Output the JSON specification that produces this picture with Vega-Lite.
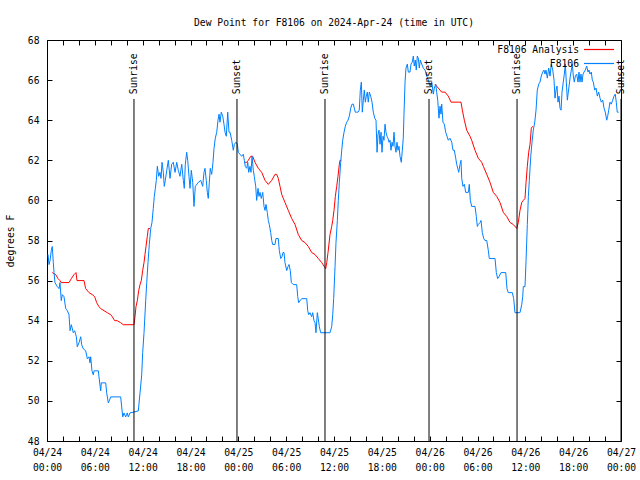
{
"$schema": "https://vega.github.io/schema/vega-lite/v6.json",
"width": 574, "height": 401,
"autosize": "none",
"padding": {"left": 47, "top": 40, "right": 19, "bottom": 39},
"background": "white",
"title": {"text": "Dew Point for F8106 on 2024-Apr-24 (time in UTC)", "font": "DejaVu Sans Mono", "fontSize": 9.7, "fontWeight": "normal", "color": "black", "offset": 7, "anchor": "middle"},
"datasets": {
"events": [
{"h": 10.91, "label": "Sunrise"}, {"h": 23.83, "label": "Sunset"}, {"h": 34.87, "label": "Sunrise"},
{"h": 47.92, "label": "Sunset"}, {"h": 58.96, "label": "Sunrise"}, {"h": 72.0, "label": "Sunset"}
],
"obs": [
{"h":0.66,"v":56.4,"series":"F8106 Analysis","seg":"r1"},
{"h":1.09,"v":56.3,"series":"F8106 Analysis","seg":"r1"},
{"h":1.38,"v":56.1,"series":"F8106 Analysis","seg":"r1"},
{"h":1.63,"v":56.0,"series":"F8106 Analysis","seg":"r1"},
{"h":1.79,"v":55.9,"series":"F8106 Analysis","seg":"r1"},
{"h":2.76,"v":55.9,"series":"F8106 Analysis","seg":"r1"},
{"h":3.05,"v":56.1,"series":"F8106 Analysis","seg":"r1"},
{"h":3.39,"v":56.3,"series":"F8106 Analysis","seg":"r1"},
{"h":3.64,"v":56.4,"series":"F8106 Analysis","seg":"r1"},
{"h":3.76,"v":56.0,"series":"F8106 Analysis","seg":"r1"},
{"h":4.64,"v":56.0,"series":"F8106 Analysis","seg":"r1"},
{"h":4.85,"v":55.6,"series":"F8106 Analysis","seg":"r1"},
{"h":5.27,"v":55.4,"series":"F8106 Analysis","seg":"r1"},
{"h":5.68,"v":55.3,"series":"F8106 Analysis","seg":"r1"},
{"h":5.98,"v":55.2,"series":"F8106 Analysis","seg":"r1"},
{"h":6.23,"v":54.9,"series":"F8106 Analysis","seg":"r1"},
{"h":6.52,"v":54.7,"series":"F8106 Analysis","seg":"r1"},
{"h":6.74,"v":54.6,"series":"F8106 Analysis","seg":"r1"},
{"h":7.15,"v":54.5,"series":"F8106 Analysis","seg":"r1"},
{"h":7.56,"v":54.4,"series":"F8106 Analysis","seg":"r1"},
{"h":7.99,"v":54.3,"series":"F8106 Analysis","seg":"r1"},
{"h":8.19,"v":54.2,"series":"F8106 Analysis","seg":"r1"},
{"h":8.49,"v":54.0,"series":"F8106 Analysis","seg":"r1"},
{"h":8.82,"v":54.0,"series":"F8106 Analysis","seg":"r1"},
{"h":9.24,"v":53.9,"series":"F8106 Analysis","seg":"r1"},
{"h":9.57,"v":53.8,"series":"F8106 Analysis","seg":"r1"},
{"h":10.83,"v":53.8,"series":"F8106 Analysis","seg":"r1"},
{"h":10.91,"v":53.8,"series":"F8106 Analysis","seg":"r1"},
{"h":11.04,"v":54.2,"series":"F8106 Analysis","seg":"r1"},
{"h":11.16,"v":54.7,"series":"F8106 Analysis","seg":"r1"},
{"h":11.33,"v":55.0,"series":"F8106 Analysis","seg":"r1"},
{"h":11.50,"v":55.5,"series":"F8106 Analysis","seg":"r1"},
{"h":11.67,"v":55.8,"series":"F8106 Analysis","seg":"r1"},
{"h":11.83,"v":56.0,"series":"F8106 Analysis","seg":"r1"},
{"h":12.00,"v":56.5,"series":"F8106 Analysis","seg":"r1"},
{"h":12.17,"v":56.9,"series":"F8106 Analysis","seg":"r1"},
{"h":12.29,"v":57.3,"series":"F8106 Analysis","seg":"r1"},
{"h":12.42,"v":57.7,"series":"F8106 Analysis","seg":"r1"},
{"h":12.58,"v":58.2,"series":"F8106 Analysis","seg":"r1"},
{"h":12.71,"v":58.6,"series":"F8106 Analysis","seg":"r1"},
{"h":12.92,"v":58.6,"series":"F8106 Analysis","seg":"r1"},
{"h":24.75,"v":61.9,"series":"F8106 Analysis","seg":"r2"},
{"h":25.05,"v":61.9,"series":"F8106 Analysis","seg":"r2"},
{"h":25.25,"v":62.0,"series":"F8106 Analysis","seg":"r2"},
{"h":25.55,"v":62.2,"series":"F8106 Analysis","seg":"r2"},
{"h":25.80,"v":62.2,"series":"F8106 Analysis","seg":"r2"},
{"h":26.09,"v":61.9,"series":"F8106 Analysis","seg":"r2"},
{"h":26.50,"v":61.6,"series":"F8106 Analysis","seg":"r2"},
{"h":26.93,"v":61.4,"series":"F8106 Analysis","seg":"r2"},
{"h":27.35,"v":61.0,"series":"F8106 Analysis","seg":"r2"},
{"h":27.76,"v":60.8,"series":"F8106 Analysis","seg":"r2"},
{"h":28.19,"v":61.0,"series":"F8106 Analysis","seg":"r2"},
{"h":28.60,"v":61.3,"series":"F8106 Analysis","seg":"r2"},
{"h":28.81,"v":61.3,"series":"F8106 Analysis","seg":"r2"},
{"h":29.01,"v":61.1,"series":"F8106 Analysis","seg":"r2"},
{"h":29.23,"v":60.7,"series":"F8106 Analysis","seg":"r2"},
{"h":29.44,"v":60.3,"series":"F8106 Analysis","seg":"r2"},
{"h":29.85,"v":59.9,"series":"F8106 Analysis","seg":"r2"},
{"h":30.27,"v":59.5,"series":"F8106 Analysis","seg":"r2"},
{"h":30.69,"v":59.1,"series":"F8106 Analysis","seg":"r2"},
{"h":31.11,"v":58.8,"series":"F8106 Analysis","seg":"r2"},
{"h":31.52,"v":58.3,"series":"F8106 Analysis","seg":"r2"},
{"h":31.95,"v":58.0,"series":"F8106 Analysis","seg":"r2"},
{"h":32.36,"v":57.9,"series":"F8106 Analysis","seg":"r2"},
{"h":32.78,"v":57.7,"series":"F8106 Analysis","seg":"r2"},
{"h":33.20,"v":57.4,"series":"F8106 Analysis","seg":"r2"},
{"h":33.62,"v":57.3,"series":"F8106 Analysis","seg":"r2"},
{"h":34.03,"v":57.1,"series":"F8106 Analysis","seg":"r2"},
{"h":34.46,"v":56.9,"series":"F8106 Analysis","seg":"r2"},
{"h":34.78,"v":56.7,"series":"F8106 Analysis","seg":"r2"},
{"h":34.96,"v":56.6,"series":"F8106 Analysis","seg":"r2"},
{"h":35.09,"v":56.9,"series":"F8106 Analysis","seg":"r2"},
{"h":35.25,"v":57.4,"series":"F8106 Analysis","seg":"r2"},
{"h":35.50,"v":58.3,"series":"F8106 Analysis","seg":"r2"},
{"h":35.71,"v":58.7,"series":"F8106 Analysis","seg":"r2"},
{"h":35.84,"v":59.0,"series":"F8106 Analysis","seg":"r2"},
{"h":36.00,"v":59.5,"series":"F8106 Analysis","seg":"r2"},
{"h":36.17,"v":60.2,"series":"F8106 Analysis","seg":"r2"},
{"h":36.34,"v":60.7,"series":"F8106 Analysis","seg":"r2"},
{"h":36.50,"v":61.2,"series":"F8106 Analysis","seg":"r2"},
{"h":36.67,"v":61.8,"series":"F8106 Analysis","seg":"r2"},
{"h":36.75,"v":62.0,"series":"F8106 Analysis","seg":"r2"},
{"h":36.92,"v":62.0,"series":"F8106 Analysis","seg":"r2"},
{"h":48.67,"v":65.8,"series":"F8106 Analysis","seg":"r3"},
{"h":49.08,"v":65.6,"series":"F8106 Analysis","seg":"r3"},
{"h":49.51,"v":65.4,"series":"F8106 Analysis","seg":"r3"},
{"h":49.92,"v":65.4,"series":"F8106 Analysis","seg":"r3"},
{"h":50.34,"v":65.2,"series":"F8106 Analysis","seg":"r3"},
{"h":50.68,"v":64.9,"series":"F8106 Analysis","seg":"r3"},
{"h":51.18,"v":64.9,"series":"F8106 Analysis","seg":"r3"},
{"h":51.93,"v":64.9,"series":"F8106 Analysis","seg":"r3"},
{"h":52.10,"v":64.5,"series":"F8106 Analysis","seg":"r3"},
{"h":52.35,"v":64.0,"series":"F8106 Analysis","seg":"r3"},
{"h":52.65,"v":63.5,"series":"F8106 Analysis","seg":"r3"},
{"h":53.06,"v":63.2,"series":"F8106 Analysis","seg":"r3"},
{"h":53.27,"v":63.0,"series":"F8106 Analysis","seg":"r3"},
{"h":53.69,"v":62.5,"series":"F8106 Analysis","seg":"r3"},
{"h":54.10,"v":62.1,"series":"F8106 Analysis","seg":"r3"},
{"h":54.53,"v":61.9,"series":"F8106 Analysis","seg":"r3"},
{"h":54.73,"v":61.7,"series":"F8106 Analysis","seg":"r3"},
{"h":55.16,"v":61.3,"series":"F8106 Analysis","seg":"r3"},
{"h":55.57,"v":60.9,"series":"F8106 Analysis","seg":"r3"},
{"h":55.98,"v":60.4,"series":"F8106 Analysis","seg":"r3"},
{"h":56.41,"v":60.2,"series":"F8106 Analysis","seg":"r3"},
{"h":56.82,"v":59.9,"series":"F8106 Analysis","seg":"r3"},
{"h":57.24,"v":59.4,"series":"F8106 Analysis","seg":"r3"},
{"h":57.66,"v":59.2,"series":"F8106 Analysis","seg":"r3"},
{"h":58.08,"v":58.9,"series":"F8106 Analysis","seg":"r3"},
{"h":58.49,"v":58.8,"series":"F8106 Analysis","seg":"r3"},
{"h":58.92,"v":58.6,"series":"F8106 Analysis","seg":"r3"},
{"h":59.12,"v":58.9,"series":"F8106 Analysis","seg":"r3"},
{"h":59.33,"v":59.5,"series":"F8106 Analysis","seg":"r3"},
{"h":59.55,"v":59.9,"series":"F8106 Analysis","seg":"r3"},
{"h":59.75,"v":60.0,"series":"F8106 Analysis","seg":"r3"},
{"h":59.96,"v":60.1,"series":"F8106 Analysis","seg":"r3"},
{"h":60.09,"v":60.9,"series":"F8106 Analysis","seg":"r3"},
{"h":60.25,"v":61.7,"series":"F8106 Analysis","seg":"r3"},
{"h":60.42,"v":62.4,"series":"F8106 Analysis","seg":"r3"},
{"h":60.59,"v":62.8,"series":"F8106 Analysis","seg":"r3"},
{"h":60.75,"v":63.6,"series":"F8106 Analysis","seg":"r3"},
{"h":60.92,"v":63.7,"series":"F8106 Analysis","seg":"r3"},
{"h":0.13,"v":57.3,"series":"F8106","seg":"b"},
{"h":0.25,"v":56.8,"series":"F8106","seg":"b"},
{"h":0.38,"v":57.0,"series":"F8106","seg":"b"},
{"h":0.54,"v":57.5,"series":"F8106","seg":"b"},
{"h":0.66,"v":57.7,"series":"F8106","seg":"b"},
{"h":0.79,"v":56.9,"series":"F8106","seg":"b"},
{"h":0.88,"v":56.4,"series":"F8106","seg":"b"},
{"h":1.00,"v":55.9,"series":"F8106","seg":"b"},
{"h":1.29,"v":55.7,"series":"F8106","seg":"b"},
{"h":1.51,"v":55.6,"series":"F8106","seg":"b"},
{"h":1.63,"v":55.9,"series":"F8106","seg":"b"},
{"h":1.79,"v":55.0,"series":"F8106","seg":"b"},
{"h":1.92,"v":55.3,"series":"F8106","seg":"b"},
{"h":2.13,"v":55.2,"series":"F8106","seg":"b"},
{"h":2.35,"v":54.6,"series":"F8106","seg":"b"},
{"h":2.55,"v":54.5,"series":"F8106","seg":"b"},
{"h":2.76,"v":54.3,"series":"F8106","seg":"b"},
{"h":2.89,"v":53.5,"series":"F8106","seg":"b"},
{"h":3.05,"v":53.8,"series":"F8106","seg":"b"},
{"h":3.30,"v":53.4,"series":"F8106","seg":"b"},
{"h":3.47,"v":53.5,"series":"F8106","seg":"b"},
{"h":3.68,"v":53.2,"series":"F8106","seg":"b"},
{"h":3.80,"v":52.7,"series":"F8106","seg":"b"},
{"h":4.01,"v":52.9,"series":"F8106","seg":"b"},
{"h":4.23,"v":53.2,"series":"F8106","seg":"b"},
{"h":4.35,"v":52.8,"series":"F8106","seg":"b"},
{"h":4.55,"v":52.6,"series":"F8106","seg":"b"},
{"h":4.85,"v":52.5,"series":"F8106","seg":"b"},
{"h":5.06,"v":52.1,"series":"F8106","seg":"b"},
{"h":5.27,"v":52.2,"series":"F8106","seg":"b"},
{"h":5.39,"v":51.9,"series":"F8106","seg":"b"},
{"h":5.48,"v":52.2,"series":"F8106","seg":"b"},
{"h":5.64,"v":51.5,"series":"F8106","seg":"b"},
{"h":5.81,"v":51.3,"series":"F8106","seg":"b"},
{"h":5.90,"v":51.5,"series":"F8106","seg":"b"},
{"h":6.44,"v":51.5,"series":"F8106","seg":"b"},
{"h":6.52,"v":51.2,"series":"F8106","seg":"b"},
{"h":6.74,"v":50.5,"series":"F8106","seg":"b"},
{"h":6.81,"v":50.9,"series":"F8106","seg":"b"},
{"h":7.36,"v":50.9,"series":"F8106","seg":"b"},
{"h":7.49,"v":50.4,"series":"F8106","seg":"b"},
{"h":7.69,"v":49.9,"series":"F8106","seg":"b"},
{"h":7.81,"v":50.0,"series":"F8106","seg":"b"},
{"h":7.99,"v":50.2,"series":"F8106","seg":"b"},
{"h":9.24,"v":50.2,"series":"F8106","seg":"b"},
{"h":9.37,"v":49.7,"series":"F8106","seg":"b"},
{"h":9.50,"v":49.2,"series":"F8106","seg":"b"},
{"h":9.66,"v":49.4,"series":"F8106","seg":"b"},
{"h":9.87,"v":49.2,"series":"F8106","seg":"b"},
{"h":10.07,"v":49.4,"series":"F8106","seg":"b"},
{"h":10.20,"v":49.2,"series":"F8106","seg":"b"},
{"h":10.41,"v":49.4,"series":"F8106","seg":"b"},
{"h":11.45,"v":49.5,"series":"F8106","seg":"b"},
{"h":11.67,"v":50.4,"series":"F8106","seg":"b"},
{"h":11.88,"v":51.3,"series":"F8106","seg":"b"},
{"h":12.00,"v":52.4,"series":"F8106","seg":"b"},
{"h":12.17,"v":53.4,"series":"F8106","seg":"b"},
{"h":12.38,"v":55.0,"series":"F8106","seg":"b"},
{"h":12.51,"v":55.9,"series":"F8106","seg":"b"},
{"h":12.67,"v":56.9,"series":"F8106","seg":"b"},
{"h":12.83,"v":57.8,"series":"F8106","seg":"b"},
{"h":13.01,"v":58.6,"series":"F8106","seg":"b"},
{"h":13.17,"v":58.9,"series":"F8106","seg":"b"},
{"h":13.33,"v":59.6,"series":"F8106","seg":"b"},
{"h":13.46,"v":60.2,"series":"F8106","seg":"b"},
{"h":13.59,"v":60.6,"series":"F8106","seg":"b"},
{"h":13.71,"v":61.0,"series":"F8106","seg":"b"},
{"h":13.84,"v":61.7,"series":"F8106","seg":"b"},
{"h":14.01,"v":61.2,"series":"F8106","seg":"b"},
{"h":14.17,"v":61.4,"series":"F8106","seg":"b"},
{"h":14.30,"v":61.1,"series":"F8106","seg":"b"},
{"h":14.43,"v":61.9,"series":"F8106","seg":"b"},
{"h":14.59,"v":61.4,"series":"F8106","seg":"b"},
{"h":14.71,"v":60.7,"series":"F8106","seg":"b"},
{"h":14.84,"v":61.0,"series":"F8106","seg":"b"},
{"h":15.02,"v":61.5,"series":"F8106","seg":"b"},
{"h":15.22,"v":62.0,"series":"F8106","seg":"b"},
{"h":15.43,"v":61.1,"series":"F8106","seg":"b"},
{"h":15.64,"v":61.8,"series":"F8106","seg":"b"},
{"h":15.84,"v":61.9,"series":"F8106","seg":"b"},
{"h":16.06,"v":61.4,"series":"F8106","seg":"b"},
{"h":16.27,"v":61.9,"series":"F8106","seg":"b"},
{"h":16.47,"v":61.5,"series":"F8106","seg":"b"},
{"h":16.68,"v":61.2,"series":"F8106","seg":"b"},
{"h":16.90,"v":61.8,"series":"F8106","seg":"b"},
{"h":17.10,"v":61.0,"series":"F8106","seg":"b"},
{"h":17.22,"v":60.6,"series":"F8106","seg":"b"},
{"h":17.35,"v":61.8,"series":"F8106","seg":"b"},
{"h":17.52,"v":62.4,"series":"F8106","seg":"b"},
{"h":17.65,"v":62.0,"series":"F8106","seg":"b"},
{"h":17.81,"v":61.2,"series":"F8106","seg":"b"},
{"h":17.94,"v":60.6,"series":"F8106","seg":"b"},
{"h":18.10,"v":61.5,"series":"F8106","seg":"b"},
{"h":18.28,"v":60.9,"series":"F8106","seg":"b"},
{"h":18.44,"v":59.7,"series":"F8106","seg":"b"},
{"h":18.60,"v":60.7,"series":"F8106","seg":"b"},
{"h":18.98,"v":60.9,"series":"F8106","seg":"b"},
{"h":19.28,"v":61.0,"series":"F8106","seg":"b"},
{"h":19.53,"v":60.7,"series":"F8106","seg":"b"},
{"h":19.69,"v":61.4,"series":"F8106","seg":"b"},
{"h":19.82,"v":61.6,"series":"F8106","seg":"b"},
{"h":19.98,"v":61.0,"series":"F8106","seg":"b"},
{"h":20.11,"v":60.4,"series":"F8106","seg":"b"},
{"h":20.23,"v":60.1,"series":"F8106","seg":"b"},
{"h":20.36,"v":60.9,"series":"F8106","seg":"b"},
{"h":20.48,"v":61.6,"series":"F8106","seg":"b"},
{"h":20.66,"v":61.3,"series":"F8106","seg":"b"},
{"h":20.82,"v":61.9,"series":"F8106","seg":"b"},
{"h":20.95,"v":62.6,"series":"F8106","seg":"b"},
{"h":21.11,"v":63.1,"series":"F8106","seg":"b"},
{"h":21.29,"v":63.4,"series":"F8106","seg":"b"},
{"h":21.45,"v":64.0,"series":"F8106","seg":"b"},
{"h":21.58,"v":64.3,"series":"F8106","seg":"b"},
{"h":21.70,"v":63.9,"series":"F8106","seg":"b"},
{"h":21.86,"v":64.4,"series":"F8106","seg":"b"},
{"h":22.04,"v":64.2,"series":"F8106","seg":"b"},
{"h":22.20,"v":63.8,"series":"F8106","seg":"b"},
{"h":22.33,"v":63.4,"series":"F8106","seg":"b"},
{"h":22.49,"v":63.2,"series":"F8106","seg":"b"},
{"h":22.67,"v":64.4,"series":"F8106","seg":"b"},
{"h":22.83,"v":63.4,"series":"F8106","seg":"b"},
{"h":22.96,"v":63.4,"series":"F8106","seg":"b"},
{"h":23.17,"v":63.0,"series":"F8106","seg":"b"},
{"h":23.37,"v":62.5,"series":"F8106","seg":"b"},
{"h":23.50,"v":62.8,"series":"F8106","seg":"b"},
{"h":23.71,"v":62.9,"series":"F8106","seg":"b"},
{"h":23.87,"v":62.8,"series":"F8106","seg":"b"},
{"h":24.00,"v":62.4,"series":"F8106","seg":"b"},
{"h":24.21,"v":62.3,"series":"F8106","seg":"b"},
{"h":24.42,"v":62.2,"series":"F8106","seg":"b"},
{"h":24.62,"v":62.3,"series":"F8106","seg":"b"},
{"h":24.75,"v":62.0,"series":"F8106","seg":"b"},
{"h":24.87,"v":61.7,"series":"F8106","seg":"b"},
{"h":25.05,"v":61.6,"series":"F8106","seg":"b"},
{"h":25.18,"v":61.9,"series":"F8106","seg":"b"},
{"h":25.30,"v":61.4,"series":"F8106","seg":"b"},
{"h":25.46,"v":61.7,"series":"F8106","seg":"b"},
{"h":25.59,"v":61.4,"series":"F8106","seg":"b"},
{"h":25.72,"v":62.2,"series":"F8106","seg":"b"},
{"h":25.88,"v":61.5,"series":"F8106","seg":"b"},
{"h":26.00,"v":61.2,"series":"F8106","seg":"b"},
{"h":26.18,"v":60.7,"series":"F8106","seg":"b"},
{"h":26.30,"v":60.0,"series":"F8106","seg":"b"},
{"h":26.47,"v":60.6,"series":"F8106","seg":"b"},
{"h":26.59,"v":60.2,"series":"F8106","seg":"b"},
{"h":26.72,"v":60.4,"series":"F8106","seg":"b"},
{"h":26.88,"v":60.1,"series":"F8106","seg":"b"},
{"h":27.06,"v":60.4,"series":"F8106","seg":"b"},
{"h":27.22,"v":59.7,"series":"F8106","seg":"b"},
{"h":27.35,"v":59.5,"series":"F8106","seg":"b"},
{"h":27.47,"v":59.8,"series":"F8106","seg":"b"},
{"h":27.63,"v":59.4,"series":"F8106","seg":"b"},
{"h":27.76,"v":59.0,"series":"F8106","seg":"b"},
{"h":27.88,"v":58.8,"series":"F8106","seg":"b"},
{"h":28.06,"v":58.4,"series":"F8106","seg":"b"},
{"h":28.19,"v":58.0,"series":"F8106","seg":"b"},
{"h":28.31,"v":57.8,"series":"F8106","seg":"b"},
{"h":28.60,"v":57.8,"series":"F8106","seg":"b"},
{"h":28.72,"v":58.1,"series":"F8106","seg":"b"},
{"h":29.01,"v":58.1,"series":"F8106","seg":"b"},
{"h":29.14,"v":57.5,"series":"F8106","seg":"b"},
{"h":29.32,"v":57.1,"series":"F8106","seg":"b"},
{"h":29.48,"v":57.2,"series":"F8106","seg":"b"},
{"h":29.60,"v":57.4,"series":"F8106","seg":"b"},
{"h":29.73,"v":57.4,"series":"F8106","seg":"b"},
{"h":29.85,"v":56.9,"series":"F8106","seg":"b"},
{"h":30.07,"v":56.5,"series":"F8106","seg":"b"},
{"h":30.23,"v":56.7,"series":"F8106","seg":"b"},
{"h":30.36,"v":56.8,"series":"F8106","seg":"b"},
{"h":30.52,"v":56.5,"series":"F8106","seg":"b"},
{"h":30.65,"v":55.9,"series":"F8106","seg":"b"},
{"h":30.90,"v":55.8,"series":"F8106","seg":"b"},
{"h":31.32,"v":55.8,"series":"F8106","seg":"b"},
{"h":31.45,"v":55.2,"series":"F8106","seg":"b"},
{"h":31.57,"v":54.9,"series":"F8106","seg":"b"},
{"h":31.74,"v":55.0,"series":"F8106","seg":"b"},
{"h":31.95,"v":55.1,"series":"F8106","seg":"b"},
{"h":32.58,"v":55.1,"series":"F8106","seg":"b"},
{"h":32.70,"v":54.5,"series":"F8106","seg":"b"},
{"h":32.83,"v":54.3,"series":"F8106","seg":"b"},
{"h":32.99,"v":54.4,"series":"F8106","seg":"b"},
{"h":33.20,"v":54.2,"series":"F8106","seg":"b"},
{"h":33.33,"v":54.4,"series":"F8106","seg":"b"},
{"h":33.49,"v":54.0,"series":"F8106","seg":"b"},
{"h":33.62,"v":53.9,"series":"F8106","seg":"b"},
{"h":33.74,"v":53.4,"series":"F8106","seg":"b"},
{"h":33.91,"v":54.4,"series":"F8106","seg":"b"},
{"h":34.03,"v":54.1,"series":"F8106","seg":"b"},
{"h":34.16,"v":53.7,"series":"F8106","seg":"b"},
{"h":34.33,"v":53.4,"series":"F8106","seg":"b"},
{"h":35.50,"v":53.4,"series":"F8106","seg":"b"},
{"h":35.71,"v":53.7,"series":"F8106","seg":"b"},
{"h":35.84,"v":54.3,"series":"F8106","seg":"b"},
{"h":35.96,"v":55.1,"series":"F8106","seg":"b"},
{"h":36.13,"v":56.7,"series":"F8106","seg":"b"},
{"h":36.25,"v":57.9,"series":"F8106","seg":"b"},
{"h":36.42,"v":59.0,"series":"F8106","seg":"b"},
{"h":36.54,"v":60.0,"series":"F8106","seg":"b"},
{"h":36.67,"v":60.9,"series":"F8106","seg":"b"},
{"h":36.84,"v":61.9,"series":"F8106","seg":"b"},
{"h":36.97,"v":62.5,"series":"F8106","seg":"b"},
{"h":37.09,"v":63.0,"series":"F8106","seg":"b"},
{"h":37.26,"v":63.4,"series":"F8106","seg":"b"},
{"h":37.42,"v":63.7,"series":"F8106","seg":"b"},
{"h":37.59,"v":63.9,"series":"F8106","seg":"b"},
{"h":37.76,"v":64.0,"series":"F8106","seg":"b"},
{"h":37.92,"v":64.2,"series":"F8106","seg":"b"},
{"h":38.10,"v":64.6,"series":"F8106","seg":"b"},
{"h":38.26,"v":64.8,"series":"F8106","seg":"b"},
{"h":38.42,"v":64.8,"series":"F8106","seg":"b"},
{"h":38.55,"v":64.6,"series":"F8106","seg":"b"},
{"h":38.67,"v":64.4,"series":"F8106","seg":"b"},
{"h":38.85,"v":64.4,"series":"F8106","seg":"b"},
{"h":39.01,"v":64.4,"series":"F8106","seg":"b"},
{"h":39.17,"v":64.5,"series":"F8106","seg":"b"},
{"h":39.30,"v":65.5,"series":"F8106","seg":"b"},
{"h":39.43,"v":65.9,"series":"F8106","seg":"b"},
{"h":39.55,"v":64.4,"series":"F8106","seg":"b"},
{"h":39.68,"v":65.0,"series":"F8106","seg":"b"},
{"h":39.80,"v":65.5,"series":"F8106","seg":"b"},
{"h":39.93,"v":64.9,"series":"F8106","seg":"b"},
{"h":40.05,"v":65.2,"series":"F8106","seg":"b"},
{"h":40.18,"v":65.4,"series":"F8106","seg":"b"},
{"h":40.30,"v":64.9,"series":"F8106","seg":"b"},
{"h":40.43,"v":65.4,"series":"F8106","seg":"b"},
{"h":40.60,"v":65.2,"series":"F8106","seg":"b"},
{"h":40.77,"v":64.9,"series":"F8106","seg":"b"},
{"h":40.93,"v":64.4,"series":"F8106","seg":"b"},
{"h":41.11,"v":64.1,"series":"F8106","seg":"b"},
{"h":41.27,"v":64.0,"series":"F8106","seg":"b"},
{"h":41.40,"v":62.4,"series":"F8106","seg":"b"},
{"h":41.52,"v":63.3,"series":"F8106","seg":"b"},
{"h":41.65,"v":63.5,"series":"F8106","seg":"b"},
{"h":41.77,"v":62.8,"series":"F8106","seg":"b"},
{"h":41.90,"v":63.4,"series":"F8106","seg":"b"},
{"h":42.02,"v":62.4,"series":"F8106","seg":"b"},
{"h":42.15,"v":63.2,"series":"F8106","seg":"b"},
{"h":42.27,"v":63.0,"series":"F8106","seg":"b"},
{"h":42.40,"v":63.8,"series":"F8106","seg":"b"},
{"h":42.52,"v":63.4,"series":"F8106","seg":"b"},
{"h":42.65,"v":63.2,"series":"F8106","seg":"b"},
{"h":42.77,"v":63.1,"series":"F8106","seg":"b"},
{"h":42.90,"v":62.9,"series":"F8106","seg":"b"},
{"h":43.03,"v":63.0,"series":"F8106","seg":"b"},
{"h":43.15,"v":62.5,"series":"F8106","seg":"b"},
{"h":43.28,"v":62.9,"series":"F8106","seg":"b"},
{"h":43.40,"v":62.7,"series":"F8106","seg":"b"},
{"h":43.53,"v":63.4,"series":"F8106","seg":"b"},
{"h":43.65,"v":62.7,"series":"F8106","seg":"b"},
{"h":43.78,"v":62.4,"series":"F8106","seg":"b"},
{"h":43.90,"v":62.9,"series":"F8106","seg":"b"},
{"h":44.03,"v":62.5,"series":"F8106","seg":"b"},
{"h":44.15,"v":62.7,"series":"F8106","seg":"b"},
{"h":44.28,"v":62.2,"series":"F8106","seg":"b"},
{"h":44.44,"v":61.9,"series":"F8106","seg":"b"},
{"h":44.57,"v":62.5,"series":"F8106","seg":"b"},
{"h":44.69,"v":63.1,"series":"F8106","seg":"b"},
{"h":44.78,"v":64.3,"series":"F8106","seg":"b"},
{"h":44.91,"v":65.9,"series":"F8106","seg":"b"},
{"h":45.03,"v":66.6,"series":"F8106","seg":"b"},
{"h":45.20,"v":66.8,"series":"F8106","seg":"b"},
{"h":45.32,"v":66.4,"series":"F8106","seg":"b"},
{"h":45.53,"v":66.4,"series":"F8106","seg":"b"},
{"h":45.66,"v":66.8,"series":"F8106","seg":"b"},
{"h":45.82,"v":66.9,"series":"F8106","seg":"b"},
{"h":45.95,"v":67.2,"series":"F8106","seg":"b"},
{"h":46.07,"v":66.7,"series":"F8106","seg":"b"},
{"h":46.20,"v":67.0,"series":"F8106","seg":"b"},
{"h":46.32,"v":66.5,"series":"F8106","seg":"b"},
{"h":46.45,"v":67.2,"series":"F8106","seg":"b"},
{"h":46.57,"v":67.1,"series":"F8106","seg":"b"},
{"h":46.70,"v":66.6,"series":"F8106","seg":"b"},
{"h":46.83,"v":67.0,"series":"F8106","seg":"b"},
{"h":47.00,"v":66.8,"series":"F8106","seg":"b"},
{"h":47.20,"v":66.6,"series":"F8106","seg":"b"},
{"h":47.42,"v":66.5,"series":"F8106","seg":"b"},
{"h":47.63,"v":66.2,"series":"F8106","seg":"b"},
{"h":47.83,"v":66.0,"series":"F8106","seg":"b"},
{"h":48.04,"v":65.7,"series":"F8106","seg":"b"},
{"h":48.26,"v":65.9,"series":"F8106","seg":"b"},
{"h":48.46,"v":65.3,"series":"F8106","seg":"b"},
{"h":48.58,"v":65.6,"series":"F8106","seg":"b"},
{"h":48.76,"v":65.8,"series":"F8106","seg":"b"},
{"h":48.88,"v":65.4,"series":"F8106","seg":"b"},
{"h":49.01,"v":65.0,"series":"F8106","seg":"b"},
{"h":49.17,"v":64.1,"series":"F8106","seg":"b"},
{"h":49.30,"v":64.7,"series":"F8106","seg":"b"},
{"h":49.42,"v":64.3,"series":"F8106","seg":"b"},
{"h":49.51,"v":64.8,"series":"F8106","seg":"b"},
{"h":49.67,"v":63.9,"series":"F8106","seg":"b"},
{"h":49.84,"v":63.8,"series":"F8106","seg":"b"},
{"h":50.01,"v":63.4,"series":"F8106","seg":"b"},
{"h":50.18,"v":63.2,"series":"F8106","seg":"b"},
{"h":50.34,"v":63.0,"series":"F8106","seg":"b"},
{"h":50.55,"v":63.1,"series":"F8106","seg":"b"},
{"h":50.77,"v":62.9,"series":"F8106","seg":"b"},
{"h":50.93,"v":62.5,"series":"F8106","seg":"b"},
{"h":51.09,"v":62.5,"series":"F8106","seg":"b"},
{"h":51.27,"v":62.1,"series":"F8106","seg":"b"},
{"h":51.39,"v":61.8,"series":"F8106","seg":"b"},
{"h":51.52,"v":61.6,"series":"F8106","seg":"b"},
{"h":51.64,"v":61.4,"series":"F8106","seg":"b"},
{"h":51.81,"v":61.8,"series":"F8106","seg":"b"},
{"h":51.93,"v":62.0,"series":"F8106","seg":"b"},
{"h":52.02,"v":61.1,"series":"F8106","seg":"b"},
{"h":52.18,"v":60.7,"series":"F8106","seg":"b"},
{"h":52.35,"v":60.8,"series":"F8106","seg":"b"},
{"h":52.52,"v":60.4,"series":"F8106","seg":"b"},
{"h":52.85,"v":60.4,"series":"F8106","seg":"b"},
{"h":52.97,"v":60.8,"series":"F8106","seg":"b"},
{"h":53.10,"v":60.0,"series":"F8106","seg":"b"},
{"h":53.27,"v":59.7,"series":"F8106","seg":"b"},
{"h":53.69,"v":59.7,"series":"F8106","seg":"b"},
{"h":53.85,"v":59.2,"series":"F8106","seg":"b"},
{"h":53.98,"v":58.7,"series":"F8106","seg":"b"},
{"h":54.10,"v":58.8,"series":"F8106","seg":"b"},
{"h":54.32,"v":58.9,"series":"F8106","seg":"b"},
{"h":54.44,"v":59.0,"series":"F8106","seg":"b"},
{"h":54.60,"v":58.4,"series":"F8106","seg":"b"},
{"h":54.78,"v":58.1,"series":"F8106","seg":"b"},
{"h":54.94,"v":58.0,"series":"F8106","seg":"b"},
{"h":55.16,"v":58.0,"series":"F8106","seg":"b"},
{"h":55.36,"v":57.5,"series":"F8106","seg":"b"},
{"h":55.48,"v":57.1,"series":"F8106","seg":"b"},
{"h":56.20,"v":57.1,"series":"F8106","seg":"b"},
{"h":56.36,"v":56.4,"series":"F8106","seg":"b"},
{"h":56.53,"v":56.1,"series":"F8106","seg":"b"},
{"h":56.70,"v":56.2,"series":"F8106","seg":"b"},
{"h":56.95,"v":56.4,"series":"F8106","seg":"b"},
{"h":57.54,"v":56.4,"series":"F8106","seg":"b"},
{"h":57.70,"v":55.6,"series":"F8106","seg":"b"},
{"h":57.86,"v":55.4,"series":"F8106","seg":"b"},
{"h":58.37,"v":55.4,"series":"F8106","seg":"b"},
{"h":58.54,"v":55.1,"series":"F8106","seg":"b"},
{"h":58.70,"v":54.4,"series":"F8106","seg":"b"},
{"h":59.33,"v":54.4,"series":"F8106","seg":"b"},
{"h":59.55,"v":54.8,"series":"F8106","seg":"b"},
{"h":59.67,"v":55.2,"series":"F8106","seg":"b"},
{"h":59.75,"v":55.7,"series":"F8106","seg":"b"},
{"h":59.96,"v":55.7,"series":"F8106","seg":"b"},
{"h":60.09,"v":57.0,"series":"F8106","seg":"b"},
{"h":60.25,"v":58.8,"series":"F8106","seg":"b"},
{"h":60.38,"v":60.2,"series":"F8106","seg":"b"},
{"h":60.50,"v":61.0,"series":"F8106","seg":"b"},
{"h":60.68,"v":62.2,"series":"F8106","seg":"b"},
{"h":60.84,"v":62.9,"series":"F8106","seg":"b"},
{"h":61.00,"v":63.5,"series":"F8106","seg":"b"},
{"h":61.18,"v":63.9,"series":"F8106","seg":"b"},
{"h":61.34,"v":64.5,"series":"F8106","seg":"b"},
{"h":61.50,"v":65.5,"series":"F8106","seg":"b"},
{"h":61.68,"v":65.8,"series":"F8106","seg":"b"},
{"h":61.84,"v":65.9,"series":"F8106","seg":"b"},
{"h":62.00,"v":66.2,"series":"F8106","seg":"b"},
{"h":62.18,"v":66.4,"series":"F8106","seg":"b"},
{"h":62.34,"v":66.5,"series":"F8106","seg":"b"},
{"h":62.47,"v":66.3,"series":"F8106","seg":"b"},
{"h":62.59,"v":66.5,"series":"F8106","seg":"b"},
{"h":62.76,"v":66.1,"series":"F8106","seg":"b"},
{"h":62.93,"v":66.6,"series":"F8106","seg":"b"},
{"h":63.10,"v":66.2,"series":"F8106","seg":"b"},
{"h":63.26,"v":66.8,"series":"F8106","seg":"b"},
{"h":63.44,"v":66.5,"series":"F8106","seg":"b"},
{"h":63.60,"v":66.0,"series":"F8106","seg":"b"},
{"h":63.72,"v":65.1,"series":"F8106","seg":"b"},
{"h":63.85,"v":65.5,"series":"F8106","seg":"b"},
{"h":63.97,"v":65.7,"series":"F8106","seg":"b"},
{"h":64.10,"v":64.9,"series":"F8106","seg":"b"},
{"h":64.22,"v":65.2,"series":"F8106","seg":"b"},
{"h":64.35,"v":64.6,"series":"F8106","seg":"b"},
{"h":64.48,"v":64.5,"series":"F8106","seg":"b"},
{"h":64.60,"v":65.4,"series":"F8106","seg":"b"},
{"h":64.76,"v":65.9,"series":"F8106","seg":"b"},
{"h":64.89,"v":66.3,"series":"F8106","seg":"b"},
{"h":65.02,"v":66.8,"series":"F8106","seg":"b"},
{"h":65.14,"v":65.9,"series":"F8106","seg":"b"},
{"h":65.27,"v":65.0,"series":"F8106","seg":"b"},
{"h":65.39,"v":65.4,"series":"F8106","seg":"b"},
{"h":65.52,"v":65.8,"series":"F8106","seg":"b"},
{"h":65.64,"v":66.2,"series":"F8106","seg":"b"},
{"h":65.77,"v":66.5,"series":"F8106","seg":"b"},
{"h":65.89,"v":66.8,"series":"F8106","seg":"b"},
{"h":66.02,"v":66.2,"series":"F8106","seg":"b"},
{"h":66.14,"v":65.9,"series":"F8106","seg":"b"},
{"h":66.27,"v":66.2,"series":"F8106","seg":"b"},
{"h":66.44,"v":66.3,"series":"F8106","seg":"b"},
{"h":66.61,"v":65.9,"series":"F8106","seg":"b"},
{"h":66.73,"v":66.4,"series":"F8106","seg":"b"},
{"h":66.86,"v":65.9,"series":"F8106","seg":"b"},
{"h":66.98,"v":66.3,"series":"F8106","seg":"b"},
{"h":67.11,"v":65.9,"series":"F8106","seg":"b"},
{"h":67.24,"v":66.3,"series":"F8106","seg":"b"},
{"h":67.36,"v":66.4,"series":"F8106","seg":"b"},
{"h":67.52,"v":66.5,"series":"F8106","seg":"b"},
{"h":67.70,"v":66.7,"series":"F8106","seg":"b"},
{"h":67.86,"v":66.4,"series":"F8106","seg":"b"},
{"h":67.99,"v":66.5,"series":"F8106","seg":"b"},
{"h":68.11,"v":66.3,"series":"F8106","seg":"b"},
{"h":68.28,"v":66.4,"series":"F8106","seg":"b"},
{"h":68.40,"v":66.0,"series":"F8106","seg":"b"},
{"h":68.53,"v":65.9,"series":"F8106","seg":"b"},
{"h":68.70,"v":65.5,"series":"F8106","seg":"b"},
{"h":68.87,"v":65.6,"series":"F8106","seg":"b"},
{"h":69.03,"v":65.2,"series":"F8106","seg":"b"},
{"h":69.20,"v":65.4,"series":"F8106","seg":"b"},
{"h":69.37,"v":65.1,"series":"F8106","seg":"b"},
{"h":69.53,"v":64.9,"series":"F8106","seg":"b"},
{"h":69.71,"v":65.0,"series":"F8106","seg":"b"},
{"h":69.87,"v":64.6,"series":"F8106","seg":"b"},
{"h":70.03,"v":64.4,"series":"F8106","seg":"b"},
{"h":70.21,"v":64.0,"series":"F8106","seg":"b"},
{"h":70.33,"v":64.2,"series":"F8106","seg":"b"},
{"h":70.46,"v":64.5,"series":"F8106","seg":"b"},
{"h":70.62,"v":64.9,"series":"F8106","seg":"b"},
{"h":70.78,"v":64.8,"series":"F8106","seg":"b"},
{"h":70.96,"v":65.0,"series":"F8106","seg":"b"},
{"h":71.12,"v":65.2,"series":"F8106","seg":"b"},
{"h":71.28,"v":65.3,"series":"F8106","seg":"b"},
{"h":71.41,"v":64.9,"series":"F8106","seg":"b"},
{"h":71.53,"v":64.4,"series":"F8106","seg":"b"},
{"h":71.71,"v":64.4,"series":"F8106","seg":"b"}
]
},
"layer": [
{
"data": {"name": "obs"},
"mark": {"type": "line", "strokeWidth": 1, "interpolate": "linear"},
"encoding": {
"x": {"field": "h", "type": "quantitative", "scale": {"domain": [0, 72], "nice": false, "zero": false},
"axis": {"orient": "bottom", "title": null, "values": [0,2,4,6,8,10,12,14,16,18,20,22,24,26,28,30,32,34,36,38,40,42,44,46,48,50,52,54,56,58,60,62,64,66,68,70,72],
"labelExpr": "datum.value % 6 == 0 ? ['04/' + (24 + floor(datum.value / 24)), (datum.value % 24 < 10 ? '0' : '') + (datum.value % 24) + ':00'] : ''",
"labelOverlap": false, "labelFlush": false, "labelBound": false, "labelPadding": 11, "labelBaseline": "top", "labelLineHeight": 15}},
"y": {"field": "v", "type": "quantitative", "scale": {"domain": [48, 68], "nice": false, "zero": false},
"axis": {"orient": "left", "title": "degrees F", "values": [48,50,52,54,56,58,60,62,64,66,68], "labelPadding": 13, "titlePadding": 12, "labelOverlap": false, "labelFlush": false}},
"color": {"field": "series", "type": "nominal",
"scale": {"domain": ["F8106 Analysis", "F8106"], "range": ["#ff0000", "#0080ff"]},
"legend": {"title": null, "orient": "none", "legendX": 546, "legendY": 3.5, "symbolType": "M-3,0H3", "symbolSize": 100, "symbolStrokeWidth": 1.2, "symbolOpacity": 1, "labelAlign": "right", "labelOffset": -26, "rowPadding": 3, "padding": 0, "labelFont": "DejaVu Sans Mono", "labelFontSize": 9.7, "labelColor": "black"}},
"detail": {"field": "seg", "type": "nominal"}
}
},
{
"data": {"name": "events"},
"mark": {"type": "rule", "color": "black", "strokeWidth": 1},
"encoding": {
"x": {"field": "h", "type": "quantitative", "axis": {"orient": "top", "title": null, "labels": false, "values": [0,2,4,6,8,10,12,14,16,18,20,22,24,26,28,30,32,34,36,38,40,42,44,46,48,50,52,54,56,58,60,62,64,66,68,70,72]}},
"y": {"datum": 48, "type": "quantitative", "axis": {"orient": "right", "title": null, "labels": false, "values": [48,50,52,54,56,58,60,62,64,66,68]}},
"y2": {"datum": 65.06}
}
},
{
"data": {"name": "events"},
"mark": {"type": "text", "angle": 270, "align": "left", "baseline": "middle", "font": "DejaVu Sans Mono", "fontSize": 9.7, "color": "black"},
"encoding": {
"x": {"field": "h", "type": "quantitative", "axis": null},
"y": {"datum": 65.3, "type": "quantitative", "axis": null},
"text": {"field": "label"}
}
}
],
"resolve": {"axis": {"x": "independent", "y": "independent"}},
"config": {
"view": {"stroke": "black", "strokeWidth": 1},
"axis": {"domain": false, "grid": false, "ticks": true, "tickSize": -5, "tickColor": "black", "tickWidth": 1,
"labelFont": "DejaVu Sans Mono", "labelFontSize": 9.7, "labelColor": "black",
"titleFont": "DejaVu Sans Mono", "titleFontSize": 9.7, "titleFontWeight": "normal", "titleColor": "black"}
}
}
